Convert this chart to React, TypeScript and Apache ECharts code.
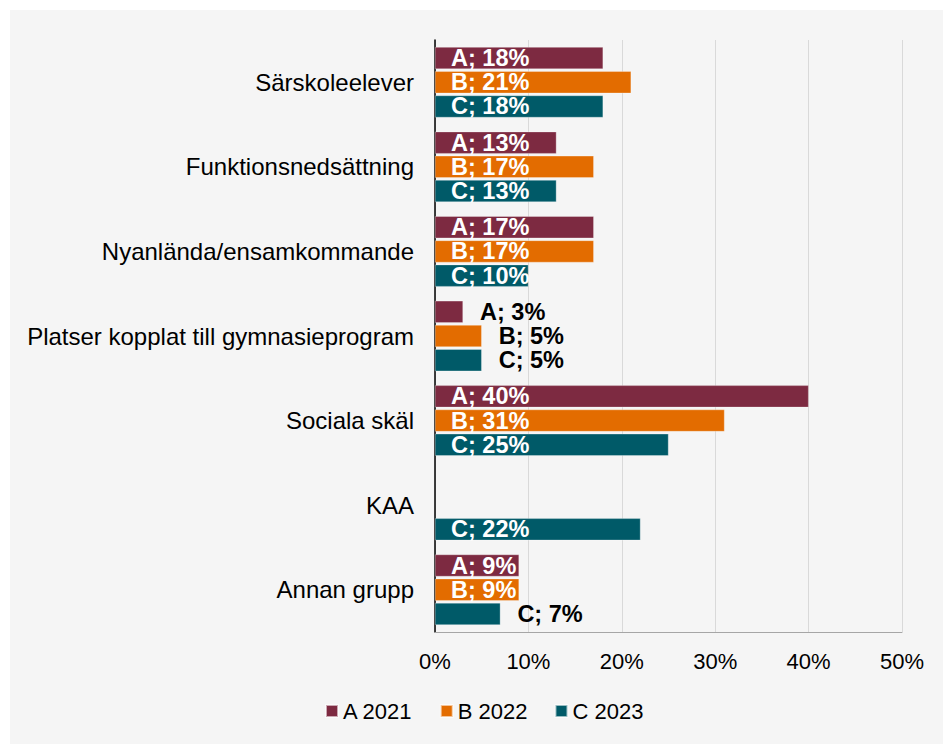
import React, { useEffect, useRef } from "react";
import * as echarts from "echarts";

const categories = [
  "Särskoleelever",
  "Funktionsnedsättning",
  "Nyanlända/ensamkommande",
  "Platser kopplat till gymnasieprogram",
  "Sociala skäl",
  "KAA",
  "Annan grupp",
];
const seriesA: (number | null)[] = [18, 13, 17, 3, 40, null, 9];
const seriesB: (number | null)[] = [21, 17, 17, 5, 31, null, 9];
const seriesC: (number | null)[] = [18, 13, 10, 5, 25, 22, 7];
const seriesNames = ["A 2021", "B 2022", "C 2023"];
const seriesPrefix = ["A", "B", "C"];
const colors = ["#7d2a41", "#e36c00", "#005a68"];
const xTicks = [0, 10, 20, 30, 40, 50];

export default function App() {
  const ref = useRef<HTMLDivElement>(null);
  useEffect(() => {
    if (!ref.current) return;
    const chart = echarts.init(ref.current, null, { renderer: "svg" });
    const font = "'Liberation Sans', Arial, sans-serif";
    const all = [seriesA, seriesB, seriesC];
    const series = all.map((vals, i) => ({
      type: "bar",
      name: seriesNames[i],
      barWidth: 22,
      barGap: "10%",
      itemStyle: { color: colors[i], borderColor: "rgba(255,255,255,0.6)", borderWidth: 0.5 },
      data: vals.map((v) => {
        if (v == null) return { value: null };
        const inside = v >= 9;
        return {
          value: v,
          label: {
            show: true,
            position: inside ? "insideLeft" : "right",
            distance: inside ? 16 : 17,
            color: inside ? "#ffffff" : "#000000",
            fontWeight: "bold",
            fontSize: 23.5,
            fontFamily: font,
            formatter: `${seriesPrefix[i]}; ${v}%`,
          },
        };
      }),
    }));
    chart.setOption({
      animation: false,
      backgroundColor: "#f5f5f5",
      textStyle: { fontFamily: font },
      grid: { left: 425, right: 41, top: 30, bottom: 112, containLabel: false },
      legend: {
        top: 690,
        left: 315,
        padding: 0,
        icon: "rect",
        itemWidth: 12,
        itemHeight: 12,
        itemGap: 27,
        textStyle: { fontSize: 22, color: "#000", fontFamily: font },
        data: seriesNames,
      },
      xAxis: {
        type: "value",
        min: 0,
        max: 50,
        interval: 10,
        axisLabel: {
          formatter: (v: number) => (xTicks.includes(v) ? `${v}%` : ""),
          fontSize: 22,
          color: "#000",
          margin: 18,
        },
        axisLine: { show: true, lineStyle: { color: "#a6a6a6", width: 1 } },
        axisTick: { show: false },
        splitLine: { show: true, lineStyle: { color: "#d9d9d9", width: 1 } },
      },
      yAxis: {
        type: "category",
        inverse: true,
        data: categories,
        axisLabel: { fontSize: 24, color: "#000", margin: 21 },
        axisLine: { show: true, lineStyle: { color: "#000", width: 1.5 } },
        axisTick: { show: false },
      },
      series,
    });
    return () => chart.dispose();
  }, []);
  return (
    <div
      ref={ref}
      style={{ position: "absolute", left: 10, top: 10, width: 933, height: 734 }}
    />
  );
}
